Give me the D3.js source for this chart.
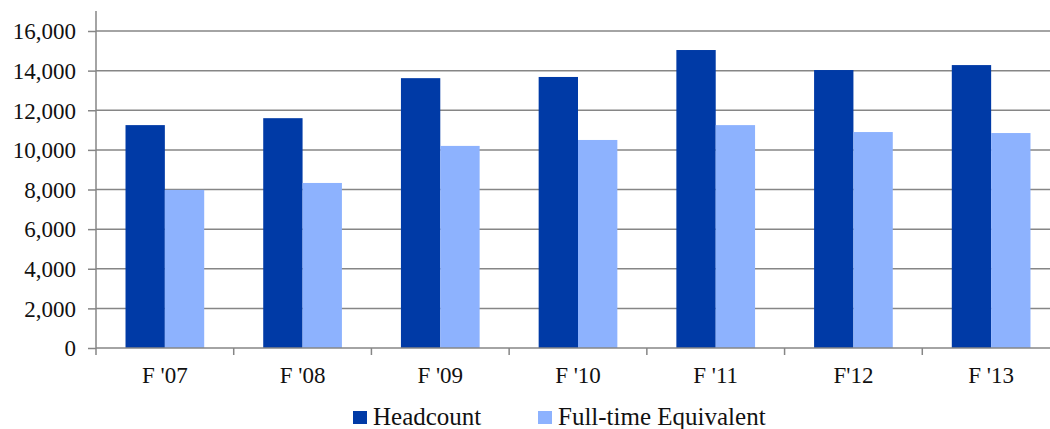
<!DOCTYPE html>
<html>
<head>
<meta charset="utf-8">
<script src="https://cdn.jsdelivr.net/npm/d3@7"></script>
<style>
  body { margin: 0; background: #fff; }
</style>
</head>
<body>
<script>
// data
var years = ["F '07", "F '08", "F '09", "F '10", "F '11", "F'12", "F '13"];
var headcount = [11250, 11600, 13620, 13680, 15040, 14030, 14280];
var fte = [7980, 8330, 10200, 10500, 11250, 10900, 10850];
var yTicks = [0, 2000, 4000, 6000, 8000, 10000, 12000, 14000, 16000];
var seriesNames = ["Headcount", "Full-time Equivalent"];
var colors = ["#003aa6", "#8db2fe"];

var width = 1050,
    height = 429;

var padLeft = 96, padBottom = 348, padTop = 31, padRight = 1060;
var serif = "'Liberation Serif', 'Times New Roman', Times, serif";

var svg = d3.select("body").append("svg")
    .attr("width", width)
    .attr("height", height)
    .style("font-family", serif);

var x = d3.scaleBand()
    .domain(years)
    .range([padLeft, padRight]);

var y = d3.scaleLinear()
    .domain([0, 16000])
    .range([padBottom, padTop]);

// gridlines
svg.append("g")
    .selectAll("line")
    .data(yTicks.slice(1))
    .enter().append("line")
    .attr("x1", padLeft).attr("x2", width)
    .attr("y1", function(d) { return y(d); })
    .attr("y2", function(d) { return y(d); })
    .attr("stroke", "#868686")
    .attr("stroke-width", 1.5);

// bars
var barW = x.bandwidth() / 3.5; // gap width 150%
var groups = svg.append("g")
    .selectAll("g")
    .data(years)
    .enter().append("g")
    .attr("transform", function(d) { return "translate(" + (x(d) + x.bandwidth() / 2 - barW) + ",0)"; });

[headcount, fte].forEach(function(vals, s) {
    groups.append("rect")
        .attr("x", s * barW)
        .attr("width", barW)
        .attr("y", function(d, i) { return y(vals[i]); })
        .attr("height", function(d, i) { return padBottom - y(vals[i]); })
        .attr("fill", colors[s]);
});

// y axis
var yAxis = d3.axisLeft(y)
    .tickValues(yTicks)
    .tickFormat(d3.format(","))
    .tickSize(8)
    .tickPadding(12);

var gy = svg.append("g")
    .attr("transform", "translate(" + padLeft + ",0)")
    .call(yAxis)
    .attr("font-family", null)
    .attr("font-size", null);
gy.select(".domain").remove();
gy.selectAll(".tick line").attr("stroke", "#868686").attr("stroke-width", 1.5);
gy.selectAll("text")
    .style("font-family", serif)
    .style("font-size", "23px")
    .attr("fill", "#111")
    .attr("dy", "0.34em");
gy.append("line")
    .attr("x1", 0).attr("x2", 0)
    .attr("y1", 11).attr("y2", padBottom + 7)
    .attr("stroke", "#868686")
    .attr("stroke-width", 1.5);

// x axis
var gx = svg.append("g");
gx.append("line")
    .attr("x1", padLeft).attr("x2", width)
    .attr("y1", padBottom).attr("y2", padBottom)
    .attr("stroke", "#868686")
    .attr("stroke-width", 1.5);
gx.selectAll(".xt")
    .data(years.slice(1))
    .enter().append("line")
    .attr("class", "xt")
    .attr("x1", function(d) { return x(d); })
    .attr("x2", function(d) { return x(d); })
    .attr("y1", padBottom).attr("y2", padBottom + 7)
    .attr("stroke", "#868686")
    .attr("stroke-width", 1.5);
gx.selectAll("text")
    .data(years)
    .enter().append("text")
    .attr("x", function(d) { return x(d) + x.bandwidth() / 2; })
    .attr("y", 383)
    .attr("text-anchor", "middle")
    .attr("fill", "#111")
    .style("font-family", serif)
    .style("font-size", "23px")
    .text(function(d) { return d; });

// legend
var legendX = [353, 538];
var legend = svg.append("g")
    .selectAll("g")
    .data(seriesNames)
    .enter().append("g")
    .attr("transform", function(d, i) { return "translate(" + legendX[i] + ",0)"; });
legend.append("rect")
    .attr("y", 411)
    .attr("width", 14)
    .attr("height", 13)
    .attr("fill", function(d, i) { return colors[i]; });
legend.append("text")
    .attr("x", 20)
    .attr("y", 425)
    .attr("fill", "#111")
    .style("font-family", serif)
    .style("font-size", "25px")
    .text(function(d) { return d; });
</script>
</body>
</html>
